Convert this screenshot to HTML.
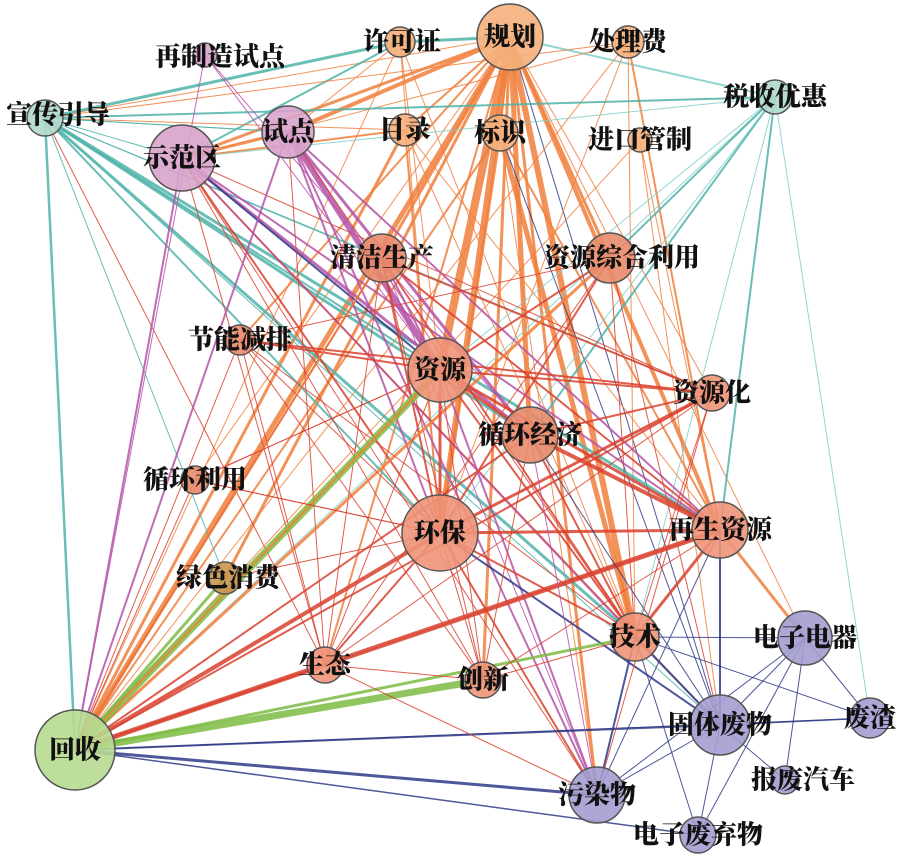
<!DOCTYPE html>
<html><head><meta charset="utf-8">
<style>
html,body{margin:0;padding:0;background:#fff;width:900px;height:861px;overflow:hidden}
svg text{font-family:"Liberation Serif","Noto Serif CJK SC","Noto Sans CJK SC",serif;font-weight:900;font-size:26px;fill:#111;text-anchor:middle;dominant-baseline:central}
</style></head><body>
<svg id="g" width="900" height="861" xmlns="http://www.w3.org/2000/svg">
<g id="edges"></g><g id="nodes"></g>
</svg>
<script>
var N={
'规划':[510,37,33,'#f6b07c'],'许可证':[400,42,15,'#f6b07c'],'处理费':[628,42,16,'#f6b07c'],
'再制造试点':[205,55,12,'#d9a3cc'],'税收优惠':[775,97,17,'#b0d8cc'],'宣传引导':[45,118,18,'#b0d8cc'],
'试点':[288,132,26,'#d9a3cc'],'示范区':[182,158,33,'#d9a3cc'],'目录':[405,130,16,'#f6b07c'],
'标识':[500,133,18,'#f6b07c'],'进口管制':[640,140,12,'#f6b07c'],'清洁生产':[382,258,24,'#e88b6c'],
'资源综合利用':[610,258,25,'#e88b6c'],'节能减排':[240,340,15,'#e88b6c'],'资源':[440,370,32,'#ee9478'],
'资源化':[712,393,18,'#ee9478'],'循环经济':[530,435,28,'#e88b6c'],'循环利用':[195,480,14,'#e88b6c'],
'环保':[440,533,38,'#ee9478'],'再生资源':[720,530,28,'#ee9478'],'绿色消费':[225,578,16,'#c8964e'],
'技术':[635,637,24,'#ee9478'],'电子电器':[805,638,27,'#a39dcf'],'生态':[325,665,18,'#ee9478'],
'创新':[483,680,18,'#ee9478'],'废渣':[870,718,20,'#a39dcf'],'回收':[75,750,40,'#b7da91'],
'固体废物':[720,725,30,'#a39dcf'],'报废汽车':[785,780,14,'#a39dcf'],'污染物':[597,795,28,'#a39dcf'],
'电子废弃物':[698,835,18,'#a39dcf']};
var L={'再制造试点':[220,57],'目录':[405,130],'进口管制':[640,140],'资源综合利用':[622,258],'循环利用':[195,480],'绿色消费':[228,578],'报废汽车':[803,780],'电子废弃物':[698,835],'宣传引导':[58,115],'节能减排':[240,340],'许可证':[402,42]};
var O='#f07f3c',R='#d9412e',T='#4fb3a9',P='#b552a8',V='#2e3a87',G='#7cbb43',LT='#7fcfc8';
var E=[
['规划','回收',O,5],['规划','资源',O,8],['规划','环保',O,6],['规划','技术',O,6],['规划','再生资源',O,4],['规划','示范区',O,3],['规划','宣传引导',O,1],['规划','污染物',O,3],['规划','循环经济',O,5],['规划','清洁生产',O,3],['规划','生态',O,2],['规划','固体废物',V,1],['规划','电子电器',O,1],['规划','绿色消费',O,3],['规划','创新',O,3],['规划','资源化',O,1],['规划','试点',O,4],['规划','许可证',T,3],['规划','税收优惠',LT,2],['规划','资源综合利用',O,3],['规划','节能减排',O,2],['规划','循环利用',O,1],['规划','目录',O,2],['规划','标识',O,2],
['许可证','宣传引导',T,3],['许可证','示范区',T,2],['许可证','试点',O,1],['许可证','环保',O,1],['许可证','资源',O,1],['许可证','回收',O,1],['许可证','技术',O,1],
['标识','技术',O,5],['标识','环保',O,3],['标识','回收',O,2],['标识','再生资源',O,2],['标识','固体废物',V,1],['标识','污染物',O,1],
['目录','回收',O,3],['目录','示范区',O,2],['目录','环保',O,2],['目录','再生资源',O,1],['目录','技术',O,1],['目录','宣传引导',O,1],
['处理费','再生资源',O,2],['处理费','宣传引导',O,1],['处理费','回收',O,1],['处理费','技术',O,1],['处理费','环保',O,1],['处理费','示范区',O,1],
['进口管制','再生资源',O,1],['进口管制','固体废物',O,1],['进口管制','回收',O,1],
['税收优惠','宣传引导',T,2],['税收优惠','废渣',LT,1],['税收优惠','回收',LT,1],['税收优惠','循环经济',T,2],['税收优惠','环保',LT,1],['税收优惠','再生资源',T,2],['税收优惠','示范区',LT,1],['税收优惠','技术',LT,1],['税收优惠','资源',LT,1],['税收优惠','资源综合利用',T,2],
['宣传引导','回收',T,2.5],['宣传引导','技术',T,3],['宣传引导','再生资源',T,3],['宣传引导','循环经济',T,3],['宣传引导','资源',T,2],['宣传引导','环保',T,2],['宣传引导','示范区',T,1],['宣传引导','清洁生产',T,1],['宣传引导','固体废物',T,1],['宣传引导','生态',R,1],['宣传引导','绿色消费',T,1],['宣传引导','试点',T,1],['宣传引导','资源化',T,1],
['示范区','回收',P,2],['示范区','循环经济',P,3],['示范区','资源',V,2],['示范区','再生资源',P,2],['示范区','技术',P,2],['示范区','污染物',R,1],['示范区','环保',R,2],['示范区','生态',R,1],['示范区','创新',R,1],['示范区','试点',O,3],['示范区','资源化',R,1],['示范区','固体废物',R,1],
['再制造试点','回收',P,1],['再制造试点','循环经济',P,1],['再制造试点','资源',P,1],
['试点','回收',P,2],['试点','环保',P,2],['试点','资源',P,6],['试点','循环经济',P,3],['试点','污染物',P,2],['试点','技术',R,1],['试点','生态',R,1],['试点','再生资源',P,2],['试点','宣传引导',T,1],
['清洁生产','资源',P,2],['清洁生产','回收',R,2],['清洁生产','技术',R,2],['清洁生产','再生资源',R,2],['清洁生产','环保',R,2],['清洁生产','资源化',R,2],['清洁生产','污染物',P,1],['清洁生产','生态',R,1],['清洁生产','创新',R,1],
['资源综合利用','回收',O,3],['资源综合利用','资源',R,2],['资源综合利用','固体废物',R,1],['资源综合利用','环保',R,2],['资源综合利用','节能减排',R,1],['资源综合利用','生态',R,1],['资源综合利用','技术',R,1],
['节能减排','资源',R,2],['节能减排','环保',R,1],['节能减排','技术',R,1],['节能减排','资源化',R,2],['节能减排','生态',R,1],['节能减排','创新',R,1],
['资源','回收',G,7],['资源','回收',O,2],['资源','环保',R,3],['资源','再生资源',R,3],['资源','资源化',R,2],['资源','技术',R,2],['资源','污染物',P,2],['资源','循环经济',R,3],['资源','生态',R,1],['资源','创新',R,1],['资源','循环利用',R,1],
['环保','回收',R,4],['环保','技术',R,2],['环保','再生资源',R,3],['环保','资源化',R,3],['环保','污染物',R,2],['环保','固体废物',V,2],['环保','生态',R,2],['环保','创新',R,1],['环保','循环利用',R,1],
['回收','绿色消费',G,3],['回收','创新',G,7],['回收','技术',G,3],['回收','污染物',V,3],['回收','固体废物',V,2],['回收','电子废弃物',V,1.5],['回收','废渣',V,1],['回收','资源化',R,2],['回收','再生资源',R,5],['回收','生态',R,2],['回收','循环利用',R,1],['回收','节能减排',R,1],['回收','循环经济',R,2],['回收','清洁生产',O,2],
['再生资源','电子电器',O,3],['再生资源','固体废物',V,2],['再生资源','技术',R,3],['再生资源','循环经济',R,4],['再生资源','污染物',V,1],['再生资源','生态',R,1],
['技术','污染物',V,2],['技术','固体废物',V,2],['技术','电子电器',V,1],['技术','废渣',V,1],['技术','创新',R,1],['技术','电子废弃物',V,1],
['电子电器','废渣',V,1],['电子电器','固体废物',V,1],['电子电器','电子废弃物',V,1],['电子电器','报废汽车',V,1],['电子电器','污染物',V,1],
['固体废物','废渣',V,1.5],['固体废物','污染物',V,1],['固体废物','电子废弃物',V,1],['固体废物','报废汽车',V,1],
['循环经济','资源化',R,2],['循环经济','技术',R,2],['循环经济','污染物',P,1],['循环经济','创新',R,1],['循环经济','固体废物',V,1],
['循环利用','环保',R,1],['循环利用','资源',R,1],['绿色消费','环保',R,1],['生态','创新',R,1],['生态','资源化',R,1],['创新','再生资源',R,1],['资源化','技术',R,1],['资源化','污染物',R,1],['生态','污染物',R,1]];
var ns='http://www.w3.org/2000/svg',eg=document.getElementById('edges'),ng=document.getElementById('nodes');
E.forEach(function(e){var a=N[e[0]],b=N[e[1]];if(!a||!b)return;var l=document.createElementNS(ns,'line');
l.setAttribute('x1',a[0]);l.setAttribute('y1',a[1]);l.setAttribute('x2',b[0]);l.setAttribute('y2',b[1]);
l.setAttribute('stroke',e[2]);l.setAttribute('stroke-width',e[3]);l.setAttribute('stroke-opacity',0.85);eg.appendChild(l);});
for(var k in N){var n=N[k];var c=document.createElementNS(ns,'circle');c.setAttribute('cx',n[0]);c.setAttribute('cy',n[1]);c.setAttribute('r',n[2]);
c.setAttribute('fill',n[3]);c.setAttribute('fill-opacity',0.9);c.setAttribute('stroke','#555');c.setAttribute('stroke-width',1.5);ng.appendChild(c);}
for(var k in N){var p=L[k]||N[k];var t=document.createElementNS(ns,'text');t.setAttribute('x',p[0]);t.setAttribute('y',p[1]);t.textContent=k;ng.appendChild(t);}
</script>
</body></html>
